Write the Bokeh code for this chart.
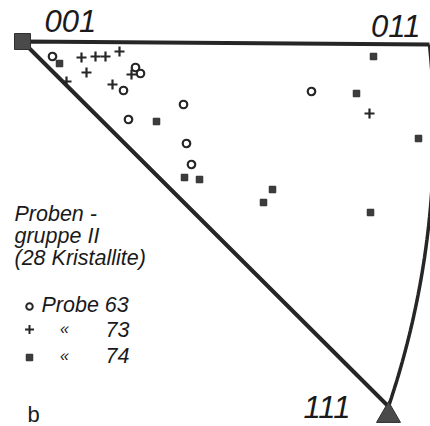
import numpy as np
from bokeh.plotting import figure
from bokeh.models import Range1d, GlobalInlineStyleSheet
from bokeh.core.properties import value
from bokeh.embed import file_html
from bokeh.resources import INLINE

# Stereographic coordinates of the poles (001 at origin, 011 to the right, 111 down-right)
probe63_x = [0.030, 0.113, 0.118, 0.101, 0.161, 0.106, 0.164, 0.169, 0.289]
probe63_y = [-0.015, -0.026, -0.032, -0.049, -0.063, -0.078, -0.102, -0.123, -0.050]

probe73_x = [0.059, 0.073, 0.083, 0.097, 0.064, 0.044, 0.109, 0.090, 0.347]
probe73_y = [-0.016, -0.015, -0.015, -0.010, -0.031, -0.040, -0.033, -0.043, -0.072]

probe74_x = [0.037, 0.134, 0.162, 0.177, 0.351, 0.334, 0.396, 0.250, 0.241, 0.348]
probe74_y = [-0.022, -0.080, -0.136, -0.138, -0.015, -0.052, -0.097, -0.148, -0.161, -0.171]

corner_labels = ["001", "011", "111"]
corner_x = [0.0, 0.407, 0.366]
corner_y = [0.0, -0.003, -0.365]
arc_mid_x, arc_mid_y = 0.397, -0.246

legend_labels = ["Probe 63", "73", "74"]
group_title = ["Proben -", "gruppe II", "(28 Kristallite)"]

S = 1000.0
def P(px, py):
    return (px - 22) / S, -(py - 41) / S

def circle3(a, b, c):
    ax, ay = a; bx, by = b; cx, cy = c
    d = 2 * (ax * (by - cy) + bx * (cy - ay) + cx * (ay - by))
    ux = ((ax**2 + ay**2) * (by - cy) + (bx**2 + by**2) * (cy - ay) + (cx**2 + cy**2) * (ay - by)) / d
    uy = ((ax**2 + ay**2) * (cx - bx) + (bx**2 + by**2) * (ax - cx) + (cx**2 + cy**2) * (bx - ax)) / d
    return ux, uy, np.hypot(ax - ux, ay - uy)

W, H = 430, 426
p = figure(width=W, height=H, output_backend="svg", toolbar_location=None,
           x_range=Range1d(-22 / S, (W - 22) / S), y_range=Range1d(-(H - 41) / S, 41 / S),
           min_border=0, outline_line_color=None)
p.stylesheets = [GlobalInlineStyleSheet(css="html, body { margin: 0; padding: 0; overflow: hidden; }")]
p.xaxis.visible = False
p.yaxis.visible = False
p.grid.visible = False
p.background_fill_color = "white"

LINE = "#262626"
# triangle boundary
p.line([corner_x[1], corner_x[0], corner_x[2]], [corner_y[1], corner_y[0], corner_y[2]],
       line_color=LINE, line_width=4)
cx, cy, r = circle3((corner_x[1], corner_y[1]), (arc_mid_x, arc_mid_y), (corner_x[2], corner_y[2]))
a0 = np.arctan2(corner_y[1] - cy, corner_x[1] - cx)
a1 = np.arctan2(corner_y[2] - cy, corner_x[2] - cx)
t = np.linspace(a0, a1, 80)
p.line(cx + r * np.cos(t), cy + r * np.sin(t), line_color=LINE, line_width=3.5)

# corner markers
p.scatter([corner_x[0]], [corner_y[0]], marker="square", size=16, fill_color="#4a4a4a", line_color="#303030")
p.scatter([corner_x[2]], [corner_y[2] - 0.009], marker="triangle", size=24, fill_color="#4a4a4a", line_color="#303030")

# data
p.scatter(probe63_x, probe63_y, marker="circle", size=7.5, fill_color="white", line_color=LINE, line_width=2.2)
p.scatter(probe73_x, probe73_y, marker="cross", size=10, line_color=LINE, line_width=2.2)
p.scatter(probe74_x, probe74_y, marker="square", size=6.5, fill_color="#3c3c3c", line_color="#2a2a2a", line_width=1)

F = value("Liberation Sans")
def txt(px, base_py, s, size, align="left", style="italic"):
    # empirical correction: rendered baseline sits ~0.36em below the anchor
    x, y = P(px, base_py - 0.36 * size)
    p.text([x], [y], text=[s], text_font=F, text_font_size=f"{size}px", text_font_style=style,
           text_align=align, text_baseline="alphabetic", text_color="#1a1a1a")

txt(44, 32, corner_labels[0], 31)
txt(420, 37, corner_labels[1], 31, align="right")
txt(350, 418, corner_labels[2], 31, align="right")

for i, s in enumerate(group_title):
    txt(14, 221 + 22 * i, s, 21.5)

# legend
lx, ly = P(29, 306)
p.scatter([lx], [ly], marker="circle", size=6.5, fill_color="white", line_color=LINE, line_width=2)
lx, ly = P(29, 329)
p.scatter([lx], [ly], marker="cross", size=9, line_color=LINE, line_width=2)
lx, ly = P(29, 357)
p.scatter([lx], [ly], marker="square", size=6.5, fill_color="#3c3c3c", line_color="#2a2a2a")
txt(41, 312, legend_labels[0], 21.5)
txt(129, 337, legend_labels[1], 21.5, align="right")
txt(129, 363, legend_labels[2], 21.5, align="right")
txt(64, 334, "«", 16, align="center")
txt(64, 361, "«", 16, align="center")

txt(27, 422, "b", 22, style="normal")

open("out.html", "w").write(file_html(p, INLINE))
